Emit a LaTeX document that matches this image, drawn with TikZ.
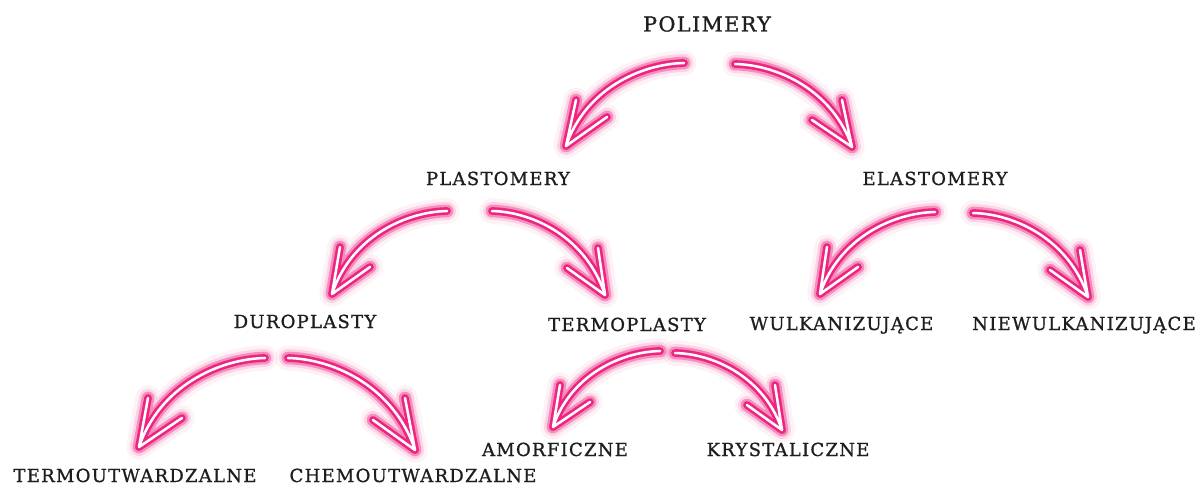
\documentclass[tikz,border=0pt]{standalone}
\usepackage{fontspec}
\usetikzlibrary{calc}
\newfontfamily\lblfont{DejaVu Serif}[LetterSpace=7, FakeBold=1]
\definecolor{neonpink}{RGB}{238,36,128}
\definecolor{ink}{RGB}{30,30,30}
\tikzset{
  lbl/.style={font=\lblfont\fontsize{13.5}{16}\selectfont, text=ink, anchor=base, inner sep=0pt},
  toplbl/.style={lbl, font=\lblfont\fontsize{15.5}{18}\selectfont},
  glowA/.style={draw=neonpink, line width=19pt, draw opacity=0.06, line cap=round, line join=round},
  glowB/.style={draw=neonpink, line width=13.5pt, draw opacity=0.14, line cap=round, line join=round},
  glowC/.style={draw=neonpink, line width=9.5pt, draw opacity=0.4, line cap=round, line join=round},
  tube/.style={draw=neonpink, line width=5.8pt, line cap=round, line join=round},
  core/.style={draw=white, line width=1.9pt, line cap=round, line join=round},
}
\newcommand\neonlayer[5]{%
  \path[#1] let \p1=(#2), \p2=(#3) in (\p1)
    .. controls ({\x1+0.373*(\x2-\x1)},{\y1+0.012*(\y2-\y1)})
           and ({\x1+0.839*(\x2-\x1)},{\y1+0.325*(\y2-\y1)}) .. (\p2)
    (#4) -- (\p2) -- (#5);}
\newcommand\neonarrow[4]{%
  \neonlayer{glowA}{#1}{#2}{#3}{#4}%
  \neonlayer{glowB}{#1}{#2}{#3}{#4}%
  \neonlayer{glowC}{#1}{#2}{#3}{#4}%
  \neonlayer{tube}{#1}{#2}{#3}{#4}%
  \neonlayer{core}{#1}{#2}{#3}{#4}}
\begin{document}
\begin{tikzpicture}[x=0.75pt, y=-0.75pt]
\path[fill=white] (0,0) rectangle (1198,485);
\useasboundingbox (0,0) rectangle (1198,485);

% labels
\node[toplbl] (pol) at (707,31.5) {POLIMERY};
\node[lbl] (pla) at (498,185) {PLASTOMERY};
\node[lbl] (ela) at (935,185) {ELASTOMERY};
\node[lbl] (dur) at (305,328) {DUROPLASTY};
\node[lbl] (ter) at (627,331) {TERMOPLASTY};
\node[lbl] (wul) at (841.5,330) {WULKANIZUJĄCE};
\node[lbl] (nie) at (1084,330) {NIEWULKANIZUJĄCE};
\node[lbl] (amo) at (555,456) {AMORFICZNE};
\node[lbl] (kry) at (788,456) {KRYSTALICZNE};
\node[lbl] (tmo) at (135,482) {TERMOUTWARDZALNE};
\node[lbl] (che) at (413,482) {CHEMOUTWARDZALNE};

% arrow geometry: start, tip, barb 1, barb 2
\coordinate (a1s) at (684,63);  \coordinate (a1t) at (566,146);  \coordinate (a1b) at (576,100);  \coordinate (a1c) at (607,117);
\coordinate (a2s) at (735,64);  \coordinate (a2t) at (852,147);  \coordinate (a2b) at (842,100);  \coordinate (a2c) at (812,120);
\coordinate (a3s) at (447,211); \coordinate (a3t) at (332,294);  \coordinate (a3b) at (340,247);  \coordinate (a3c) at (370,267);
\coordinate (a4s) at (492,211); \coordinate (a4t) at (605,295);  \coordinate (a4b) at (598,248);  \coordinate (a4c) at (567,268);
\coordinate (a5s) at (935,212); \coordinate (a5t) at (820,294);  \coordinate (a5b) at (827,247);  \coordinate (a5c) at (858,267);
\coordinate (a6s) at (973,213); \coordinate (a6t) at (1088,297); \coordinate (a6b) at (1080,250); \coordinate (a6c) at (1050,270);
\coordinate (a7s) at (265,358); \coordinate (a7t) at (139,447);  \coordinate (a7b) at (148,398);  \coordinate (a7c) at (182,418);
\coordinate (a8s) at (288,358); \coordinate (a8t) at (415,450);  \coordinate (a8b) at (405,398);  \coordinate (a8c) at (373,420);
\coordinate (a9s) at (660,351); \coordinate (a9t) at (553,427);  \coordinate (a9b) at (560,385);  \coordinate (a9c) at (590,402);
\coordinate (a10s) at (675,353); \coordinate (a10t) at (782,430); \coordinate (a10b) at (775,385); \coordinate (a10c) at (747,405);

\neonarrow{a1s}{a1t}{a1b}{a1c}
\neonarrow{a2s}{a2t}{a2b}{a2c}
\neonarrow{a3s}{a3t}{a3b}{a3c}
\neonarrow{a4s}{a4t}{a4b}{a4c}
\neonarrow{a5s}{a5t}{a5b}{a5c}
\neonarrow{a6s}{a6t}{a6b}{a6c}
\neonarrow{a7s}{a7t}{a7b}{a7c}
\neonarrow{a8s}{a8t}{a8b}{a8c}
\neonarrow{a9s}{a9t}{a9b}{a9c}
\neonarrow{a10s}{a10t}{a10b}{a10c}
\end{tikzpicture}
\end{document}
